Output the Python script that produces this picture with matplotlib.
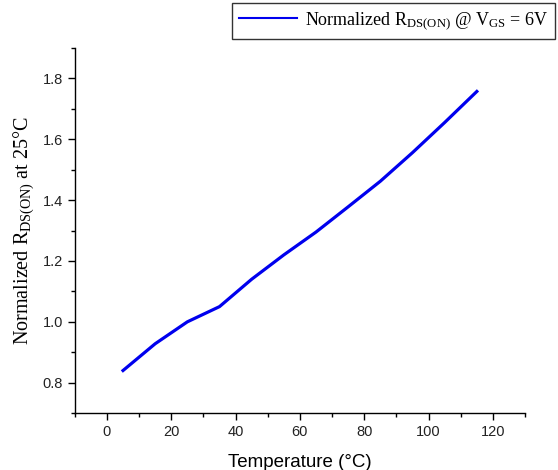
import matplotlib
matplotlib.use("Agg")
import matplotlib.pyplot as plt
from matplotlib.ticker import MultipleLocator

temperature = [5, 15, 25, 35, 45, 55, 65, 75, 85, 95, 105, 115]
rds_norm = [0.84, 0.928, 1.0, 1.05, 1.14, 1.22, 1.295, 1.378, 1.462, 1.556, 1.655, 1.757]

plt.rcParams['mathtext.fontset'] = 'custom'
plt.rcParams['mathtext.rm'] = 'Liberation Serif'
plt.rcParams['mathtext.it'] = 'Liberation Serif:italic'

fig = plt.figure(figsize=(5.58, 4.70), dpi=100)
ax = fig.add_axes([0.134, 0.121, 0.807, 0.777])

line, = ax.plot(temperature, rds_norm, color='#0000ee', lw=2.3,
                label=r'Normalized R$_{\mathrm{DS(ON)}}$ @ V$_{\mathrm{GS}}$ = 6V')

ax.set_xlim(-10, 130)
ax.set_ylim(0.7, 1.9)
ax.xaxis.set_major_locator(MultipleLocator(20))
ax.xaxis.set_minor_locator(MultipleLocator(10))
ax.yaxis.set_major_locator(MultipleLocator(0.2))
ax.yaxis.set_minor_locator(MultipleLocator(0.1))
ax.set_yticks([0.8, 1.0, 1.2, 1.4, 1.6, 1.8])
ax.set_yticklabels(['0.8', '1.0', '1.2', '1.4', '1.6', '1.8'])

for s in ['top', 'right']:
    ax.spines[s].set_visible(False)
for s in ['left', 'bottom']:
    ax.spines[s].set_linewidth(1.0)

ax.tick_params(which='major', direction='out', length=5, width=1,
               labelsize=10.5, colors='black')
ax.tick_params(which='minor', direction='out', length=3, width=1)
for lab in ax.get_xticklabels() + ax.get_yticklabels():
    lab.set_fontfamily('Liberation Sans')
    lab.set_color('#222222')

ax.set_xlabel('Temperature (°C)', fontfamily='Liberation Sans', fontsize=13.5, labelpad=11)
ax.set_ylabel(r'Normalized R$_{\mathrm{DS(ON)}}$ at 25°C', fontfamily='Liberation Serif',
              fontsize=14.5, labelpad=5)

leg = fig.legend(handles=[line], loc='upper right', bbox_to_anchor=(0.995, 0.994),
                 borderaxespad=0,
                 prop={'family': 'Liberation Serif', 'size': 13},
                 frameon=True, fancybox=False, edgecolor='black', handlelength=3.2,
                 borderpad=0.4, handletextpad=0.45)
leg.get_frame().set_linewidth(1.0)
leg.get_lines()[0].set_linewidth(1.5)

fig.savefig('out.png', dpi=100)
